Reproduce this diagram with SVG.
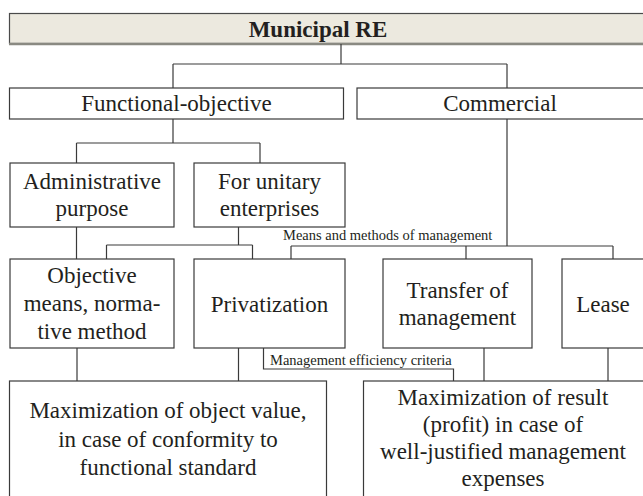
<svg xmlns="http://www.w3.org/2000/svg" width="643" height="496" viewBox="0 0 643 496">
<style>
.box{fill:#fff;stroke:#3a3a3a;stroke-width:1.2}
.lbl{font-family:'Liberation Serif','Times New Roman',serif;font-size:23px;fill:#231f20;text-anchor:middle}
.sm{font-family:'Liberation Serif','Times New Roman',serif;font-size:14.5px;fill:#231f20}
.c{fill:none;stroke:#3a3a3a;stroke-width:1.2}
</style>
<rect width="643" height="496" fill="#fff"/>
<g id="municipal">
<rect x="9.5" y="13.5" width="640" height="30" fill="#ece9df" stroke="#4a4a4a" stroke-width="1.2"/>
<line x1="9" y1="44" x2="643" y2="44" stroke="#8a8a82" stroke-width="2.5"/>
<text class="lbl" x="318" y="37" font-weight="bold">Municipal RE</text>
</g>
<g id="functional">
<rect class="box" x="9.5" y="88" width="334" height="31"/>
<text class="lbl" x="176.5" y="111">Functional-objective</text>
</g>
<g id="commercial">
<rect class="box" x="357" y="88" width="292" height="31"/>
<text class="lbl" x="500" y="111">Commercial</text>
</g>
<g id="administrative">
<rect class="box" x="10" y="163" width="164" height="64"/>
<text class="lbl" x="92" y="189">Administrative</text>
<text class="lbl" x="92" y="216">purpose</text>
</g>
<g id="unitary">
<rect class="box" x="194" y="163" width="151" height="64"/>
<text class="lbl" x="269.5" y="189">For unitary</text>
<text class="lbl" x="269.5" y="216">enterprises</text>
</g>
<g id="objective">
<rect class="box" x="10" y="259" width="164" height="89"/>
<text class="lbl" x="92" y="283">Objective</text>
<text class="lbl" x="92" y="311">means, norma-</text>
<text class="lbl" x="92" y="339">tive method</text>
</g>
<g id="privatization">
<rect class="box" x="194" y="259" width="151" height="89"/>
<text class="lbl" x="269.5" y="312">Privatization</text>
</g>
<g id="transfer">
<rect class="box" x="383" y="259" width="149" height="89"/>
<text class="lbl" x="457.5" y="298">Transfer of</text>
<text class="lbl" x="457.5" y="325">management</text>
</g>
<g id="lease">
<rect class="box" x="562" y="259" width="90" height="89"/>
<text class="lbl" x="603" y="312">Lease</text>
</g>
<g id="max-value">
<rect class="box" x="9.5" y="381" width="317" height="120"/>
<text class="lbl" x="168" y="418">Maximization of object value,</text>
<text class="lbl" x="168" y="447">in case of conformity to</text>
<text class="lbl" x="168" y="475">functional standard</text>
</g>
<g id="max-result">
<rect class="box" x="363.5" y="381" width="290" height="120"/>
<text class="lbl" x="503" y="405">Maximization of result</text>
<text class="lbl" x="503" y="432">(profit) in case of</text>
<text class="lbl" x="503" y="459">well-justified management</text>
<text class="lbl" x="503" y="486">expenses</text>
</g>
<g id="connectors">
<path class="c" d="M341,44 V64 M173,64 H507 M173,64 V88 M507,64 V88"/>
<path class="c" d="M173,119 V143 M76.5,143 H260 M76.5,143 V163 M260,143 V163"/>
<path class="c" d="M76.5,227 V259 M238.5,227 V245 M106.5,245 H252.5 M106.5,245 V259 M252.5,245 V259"/>
<path class="c" d="M507,119 V246 M291,246 H613 M291,246 V259 M466,246 V259 M613,246 V259"/>
<path class="c" d="M77,348 V381 M238.5,348 V381 M484,348 V381 M608,348 V381"/>
<path class="c" d="M263.5,348 V369 H453.5 V381"/>
<text class="sm" x="283" y="240">Means and methods of management</text>
<text class="sm" x="270" y="365">Management efficiency criteria</text>
</g>
</svg>
